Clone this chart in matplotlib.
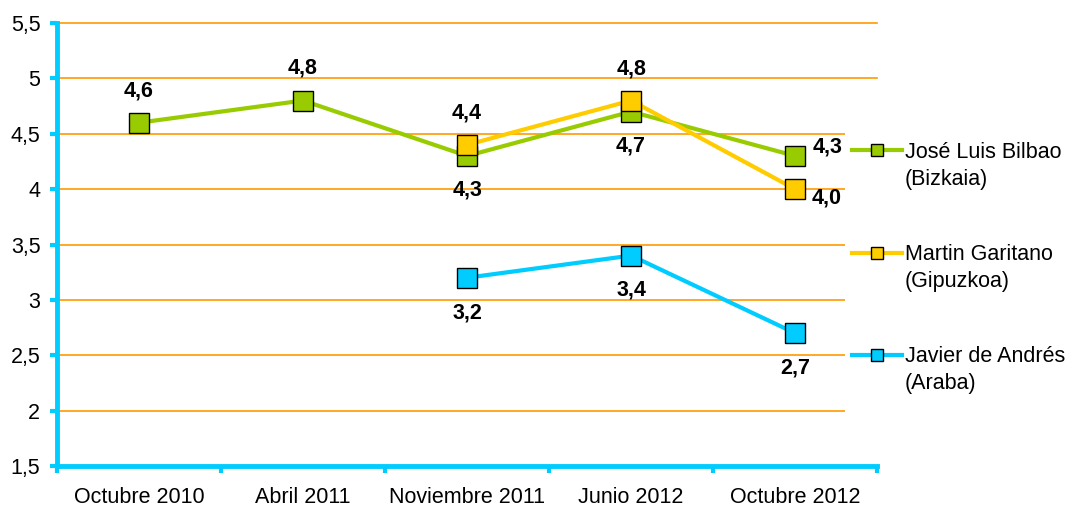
import numpy as np
import matplotlib
matplotlib.use("Agg")
import matplotlib.pyplot as plt
from matplotlib.patches import Rectangle

plt.rcParams["font.family"] = ["Liberation Sans", "DejaVu Sans"]

# Valoración de los diputados generales
periods = ["Octubre 2010", "Abril 2011", "Noviembre 2011", "Junio 2012", "Octubre 2012"]
bilbao = [4.6, 4.8, 4.3, 4.7, 4.3]
garitano = [np.nan, np.nan, 4.4, 4.8, 4.0]
andres = [np.nan, np.nan, 3.2, 3.4, 2.7]
names = ["José Luis Bilbao", "Martin Garitano", "Javier de Andrés"]
regions = ["(Bizkaia)", "(Gipuzkoa)", "(Araba)"]
colors = ["#99CC00", "#FFCC00", "#00CCFF"]
yticks = [1.5, 2, 2.5, 3, 3.5, 4, 4.5, 5, 5.5]

# where each value label sits relative to its point: (dx px, dy px)
offsets = [
    [(0, 32), (0, 33), (0, -34), (0, -34), (32, 9)],
    [None, None, (0, 32), (0, 32), (32, -9)],
    [None, None, (0, -35), (0, -34), (0, -35)],
]

FS = 15.5

fig = plt.figure(figsize=(10.72, 5.07), dpi=100)
ax = fig.add_axes([0.0532, 0.0809, 0.7650, 0.8737])

x = np.arange(len(periods))
series = [bilbao, garitano, andres]
handles = []
for vals, col, name in zip(series, colors, names):
    h, = ax.plot(x, vals, color=col, lw=3, marker="s", ms=14,
                 mfc=col, mec="black", mew=1.0, label=name, zorder=3)
    handles.append(h)

for vals, offs in zip(series, offsets):
    for xi, v, off in zip(x, vals, offs):
        if off is None or np.isnan(v):
            continue
        ax.annotate(f"{v:.1f}".replace(".", ","), (xi, v), xytext=off,
                    textcoords="offset pixels", ha="center", va="center",
                    fontsize=FS, fontweight="bold", zorder=4)

ax.set_xlim(-0.5, 4.5)
ax.set_ylim(1.5, 5.5)
ax.set_yticks(yticks)
ax.set_yticklabels([f"{t:g}".replace(".", ",") for t in yticks], fontsize=FS)
ax.set_xticks(x)
ax.set_xticklabels(periods, fontsize=FS)
ax.set_xticks(np.arange(-0.5, 5.0, 1.0), minor=True)
ax.tick_params(axis="x", which="major", length=0, pad=15)
ax.tick_params(axis="x", which="minor", length=5, width=3, color="#00CCFF", direction="out")
ax.tick_params(axis="y", length=5, width=3, color="#00CCFF", direction="out", pad=7)

for t in yticks[1:]:
    ax.axhline(t, color="#FF9900", lw=1.2, zorder=1, clip_on=False)

for side in ["top", "right"]:
    ax.spines[side].set_visible(False)
for side in ["left", "bottom"]:
    ax.spines[side].set_color("#00CCFF")
    ax.spines[side].set_linewidth(3.5)
    ax.spines[side].set_zorder(2)

# white area behind the legend hides the right end of the grid
ax.add_patch(Rectangle((0.788, 0.17), 0.3, 0.63, transform=fig.transFigure,
                       facecolor="white", edgecolor="none", zorder=1.5, clip_on=False))

leg = fig.legend(handles=handles, loc="upper left", bbox_to_anchor=(0.788, 0.735),
                 frameon=False, fontsize=FS, handlelength=2.3, handletextpad=0.15,
                 labelspacing=3.77, borderpad=0.35, borderaxespad=0)
for lh in leg.get_lines():
    lh.set_markersize(9)

# second line of each legend entry
fig.canvas.draw()
inv = fig.transFigure.inverted()
for txt, reg in zip(leg.get_texts(), regions):
    bb = txt.get_window_extent()
    fx, fy = inv.transform((bb.x0, bb.y0))
    fig.text(fx, fy - 6 / 507, reg, fontsize=FS, ha="left", va="top")

fig.savefig("out.png", dpi=100)
